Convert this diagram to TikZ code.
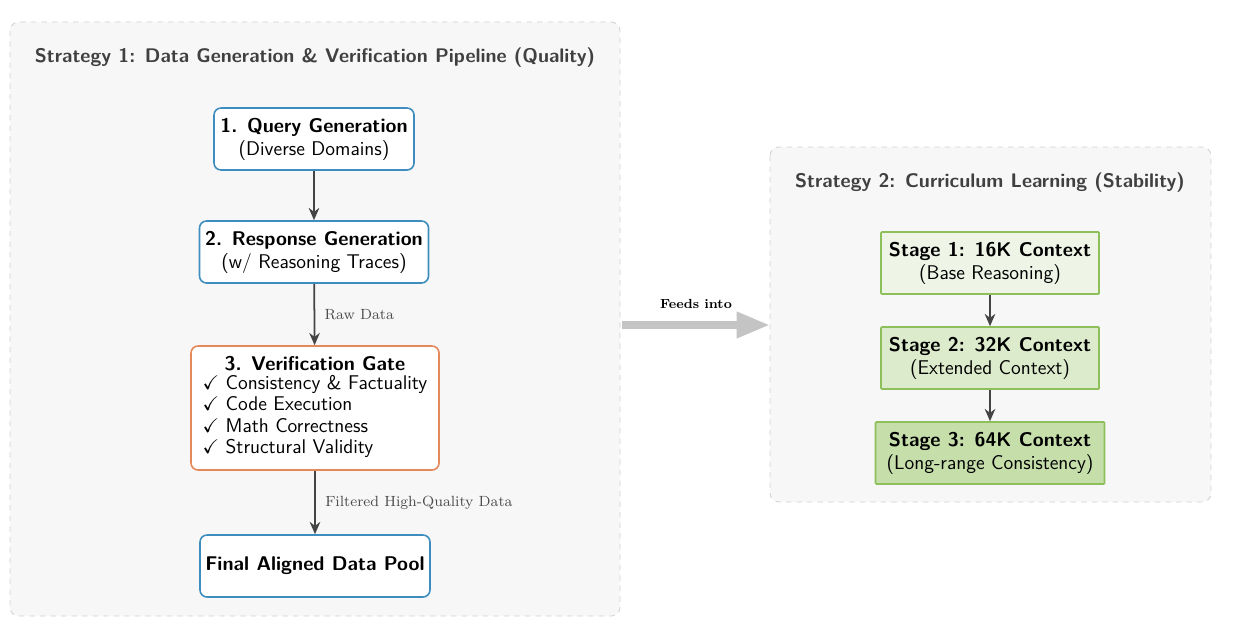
\documentclass[tikz,border=0pt]{standalone}
\usepackage{amssymb}
\usepackage{amsmath}
\usepackage{xcolor}
\usetikzlibrary{arrows.meta, calc}
\definecolor{panelfill}{HTML}{F7F7F7}
\definecolor{paneldraw}{HTML}{D2D2D2}
\definecolor{stepblue}{HTML}{3D8EBE}
\definecolor{gateorange}{HTML}{E5885C}
\definecolor{stagegreen}{HTML}{8DC05A}
\definecolor{stagefillA}{HTML}{EEF5E7}
\definecolor{stagefillB}{HTML}{DCEBCB}
\definecolor{stagefillC}{HTML}{C6DFAA}
\definecolor{arrowgray}{HTML}{444444}
\definecolor{feedgray}{HTML}{C4C4C4}
\begin{document}
\begin{tikzpicture}[x=0.02cm, y=-0.02cm,
    panel/.style={draw=paneldraw, fill=panelfill, dashed, rounded corners=5pt, line width=0.5pt},
    paneltitle/.style={text=black!75, font=\sffamily\bfseries\fontsize{11.2}{13}\selectfont},
    stepbox/.style={draw=stepblue, fill=white, rounded corners=4pt, line width=0.9pt, align=center,
        font=\sffamily\fontsize{11.3}{13}\selectfont, inner sep=0pt},
    gatebox/.style={stepbox, draw=gateorange},
    stagebox/.style={draw=stagegreen, line width=0.9pt, align=center, rounded corners=0.5pt,
        font=\sffamily\fontsize{11.3}{13}\selectfont, inner sep=0pt},
    flow/.style={draw=arrowgray, line width=1pt, -{Stealth[length=7pt, width=6pt]}},
    flowlabel/.style={font=\rmfamily\fontsize{8.4}{10}\selectfont, text=black!70, anchor=west}]
    \useasboundingbox (0,0) rectangle (1236,642);
    \draw[panel] (10,22) rectangle (620,616);
    \draw[panel] (770,147) rectangle (1211,502);
    \node[paneltitle] (title1) at (315,58) {Strategy 1: Data Generation \& Verification Pipeline (Quality)};
    \node[paneltitle] (title2) at (990,183) {Strategy 2: Curriculum Learning (Stability)};
    \node[stepbox, minimum width=200*0.02cm, minimum height=62*0.02cm] (query) at (314,139)
        {\textbf{1. Query Generation}\\(Diverse Domains)};
    \node[stepbox, minimum width=229*0.02cm, minimum height=62*0.02cm] (response) at (314,252)
        {\textbf{2. Response Generation}\\(w/ Reasoning Traces)};
    \node[gatebox, minimum width=248*0.02cm, minimum height=124*0.02cm] (gate) at (315,408)
        {\textbf{3. Verification Gate}\\[-2pt]
         \def\arraystretch{0.93}%
         \begin{tabular}[t]{@{}l@{}}
         $\checkmark$ Consistency \& Factuality\\
         $\checkmark$ Code Execution\\
         $\checkmark$ Math Correctness\\
         $\checkmark$ Structural Validity
         \end{tabular}};
    \node[stepbox, minimum width=230*0.02cm, minimum height=62*0.02cm] (pool) at (315,566)
        {\textbf{Final Aligned Data Pool}};
    \node[stagebox, fill=stagefillA, minimum width=218*0.02cm, minimum height=62*0.02cm] (stage1) at (990,263)
        {\textbf{Stage 1: 16K Context}\\(Base Reasoning)};
    \node[stagebox, fill=stagefillB, minimum width=218*0.02cm, minimum height=62*0.02cm] (stage2) at (990,358)
        {\textbf{Stage 2: 32K Context}\\(Extended Context)};
    \node[stagebox, fill=stagefillC, minimum width=229*0.02cm, minimum height=62*0.02cm] (stage3) at (990,453)
        {\textbf{Stage 3: 64K Context}\\(Long-range Consistency)};
    \draw[flow] (query) -- (response);
    \draw[flow] (response) -- node[flowlabel, right=2pt] {Raw Data} (gate);
    \draw[flow] (gate) -- node[flowlabel, right=2pt] {Filtered High-Quality Data} (pool);
    \draw[flow] (stage1) -- (stage2);
    \draw[flow] (stage2) -- (stage3);
    \coordinate (feedstart) at (622,325);
    \coordinate (feedend) at (770,325);
    \draw[draw=feedgray, line width=4.5pt, -{Triangle[length=19pt, width=14pt]}] (feedstart) -- (feedend)
        node[midway, above=4pt, font=\rmfamily\bfseries\fontsize{7.5}{9}\selectfont] {Feeds into};
\end{tikzpicture}
\end{document}
